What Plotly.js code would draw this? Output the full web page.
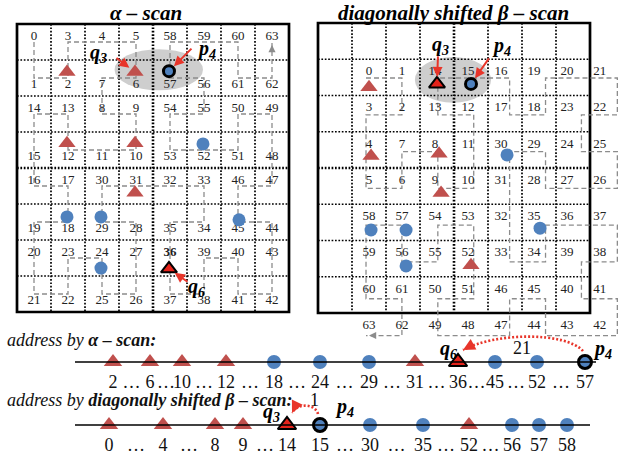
<!DOCTYPE html>
<html><head><meta charset="utf-8">
<script src="https://cdn.plot.ly/plotly-3.0.1.min.js"></script>
<style>html,body{margin:0;padding:0;background:#fff}#chart{width:618px;height:457px}</style>
</head><body><div id="chart"></div>
<script>
// ---------------- data ----------------
const alphaGrid = [
  [0, 3, 4, 5, 58, 59, 60, 63],
  [1, 2, 7, 6, 57, 56, 61, 62],
  [14, 13, 8, 9, 54, 55, 50, 49],
  [15, 12, 11, 10, 53, 52, 51, 48],
  [16, 17, 30, 31, 32, 33, 46, 47],
  [19, 18, 29, 28, 35, 34, 45, 44],
  [20, 23, 24, 27, 36, 39, 40, 43],
  [21, 22, 25, 26, 37, 38, 41, 42]
];
const betaGrid = [
  [0, 1, 14, 15, 16, 19, 20, 21],
  [3, 2, 13, 12, 17, 18, 23, 22],
  [4, 7, 8, 11, 30, 29, 24, 25],
  [5, 6, 9, 10, 31, 28, 27, 26],
  [58, 57, 54, 53, 32, 35, 36, 37],
  [59, 56, 55, 52, 33, 34, 39, 38],
  [60, 61, 50, 51, 46, 45, 40, 41],
  [63, 62, 49, 48, 47, 44, 43, 42]
];
const pointKind = ['tri', 'tri', 'dot', 'tri', 'tri', 'dot', 'tri', 'dot', 'dot', 'dot', 'dot', 'tri'];
const pointName = ['', 'q3', 'p4', '', '', '', '', '', '', '', '', 'q6'];
const alphaAddr = [2, 6, 57, 12, 10, 52, 31, 18, 29, 45, 24, 36];
const betaAddr  = [0, 14, 15, 4, 8, 30, 9, 58, 57, 35, 56, 52];
const alphaPtX = [1.47, 3.47, 4.47, 1.47, 3.47, 5.47, 3.47, 1.47, 2.47, 6.53, 2.47, 4.47];
const alphaPtY = [1.33, 1.33, 1.31, 3.31, 3.31, 3.33, 4.69, 5.36, 5.36, 5.44, 6.78, 6.80];
const betaPtX  = [1.50, 3.50, 4.50, 1.56, 3.56, 5.56, 3.62, 1.56, 2.59, 6.53, 2.59, 4.50];
const betaPtY  = [1.77, 1.68, 1.68, 3.67, 3.61, 3.64, 4.69, 5.71, 5.71, 5.66, 6.70, 6.68];
const alphaFocus = ['q6', 'p4'];
const betaFocus  = ['q3', 'p4'];
const alphaBold  = [36];
// positions of the sorted addresses along the two address lines
const alphaLineX = [113, 150, 182, 226, 274, 320, 369, 415, 458, 495, 537, 585];
const betaLineX  = [109, 163, 215, 243, 287, 320, 370, 423, 469, 512, 539, 567];

// ---------------- styles / geometry ----------------
const W = 618, H = 457;
const FONT = '"Liberation Serif", "Times New Roman", serif';
const TRI = '#C0504D', DOT = '#4F81BD', QRED = '#E5231B', ARROW = '#E8352A', CURVE = '#8c8c8c';

function xAxis(p0, p1, origin, unit, anchor) {
  return {domain: [p0 / W, p1 / W], range: [(p0 - origin) / unit, (p1 - origin) / unit],
          visible: false, fixedrange: true, anchor: anchor};
}
function yAxis(p0, p1, origin, unit, anchor) {
  return {domain: [1 - p1 / H, 1 - p0 / H], range: [(p1 - origin) / unit, (p0 - origin) / unit],
          visible: false, fixedrange: true, anchor: anchor};
}

const data = [], shapes = [], annotations = [];

function markerArrays(idx, sizes, focus) {
  const sym = [], col = [], lc = [], lw = [], sz = [];
  idx.forEach(i => {
    const f = focus.includes(pointName[i]);
    const tri = pointKind[i] === 'tri';
    sym.push(tri ? 'triangle-up' : 'circle');
    col.push(tri ? (f ? QRED : TRI) : DOT);
    lc.push('#000');
    lw.push(f ? (tri ? 2 : 3) : 0);
    sz.push(tri ? (f ? sizes.ftri : sizes.tri) : (f ? sizes.fdot : sizes.dot));
  });
  return {symbol: sym, color: col, size: sz, opacity: 1, line: {color: lc, width: lw}};
}
function qpText(name) {
  return '<b><i>' + name[0] + '<sub>' + name.slice(1) + '</sub></i></b>';
}

// ---------------- grid panels ----------------
const panels = [
  {xa: 'x', ya: 'y', ux: 34, uy: 36, grid: alphaGrid, ptX: alphaPtX, ptY: alphaPtY, focus: alphaFocus, bold: alphaBold,
   vx: c => c + 0.5, vy: r => r + 0.5, lx: c => c + 0.5, ly: r => r + 0.5 + (r % 2 ? 0.19 : -0.15),
   ellipse: {dx: 0.2, dy: -0.05, rx: 1.3, ry: 0.57},
   callouts: {q3: {tail: [-20, -15], label: [-36, 18]}, p4: {tail: [24, -24], label: [38, 22]}, q6: {tail: [20, 14], label: [28, -19]}},
   title: '<b><i>α – scan</i></b>', titleX: 146},
  {xa: 'x2', ya: 'y2', ux: 34, uy: 36.25, grid: betaGrid, ptX: betaPtX, ptY: betaPtY, focus: betaFocus, bold: [],
   vx: c => 1.412 + 1.056 * c, vy: r => 1.517 + 1.015 * r, lx: c => 1.5 + 0.97 * c, ly: r => 1.35 + r,
   ellipse: {dx: -0.03, dy: -0.11, rx: 1.12, ry: 0.63},
   callouts: {q3: {tail: [1, -29], label: [3, 38]}, p4: {tail: [19, -27], label: [30, 37]}},
   title: '<b><i>diagonally shifted β – scan</i></b>', titleX: 453}
];

panels.forEach(P => {
  // grey ellipse around q3 / p4
  const iq = pointName.indexOf('q3'), ip = pointName.indexOf('p4');
  const cx = (P.ptX[iq] + P.ptX[ip]) / 2 + P.ellipse.dx, cy = (P.ptY[iq] + P.ptY[ip]) / 2 + P.ellipse.dy;
  shapes.push({type: 'circle', xref: P.xa, yref: P.ya, layer: 'below', x0: cx - P.ellipse.rx, x1: cx + P.ellipse.rx,
               y0: cy - P.ellipse.ry, y1: cy + P.ellipse.ry, fillcolor: 'rgb(206,206,206)', line: {width: 0}});
  // dotted cell grid
  for (let k = 1; k < 8; k++) {
    const w = k === 4 ? 2.6 : 1.7;
    shapes.push({type: 'line', xref: P.xa, yref: P.ya, layer: 'below', x0: k, x1: k, y0: 0, y1: 8, line: {color: '#000', width: w, dash: '1.7px,1.7px'}});
    shapes.push({type: 'line', xref: P.xa, yref: P.ya, layer: 'below', x0: 0, x1: 8, y0: k, y1: k, line: {color: '#000', width: w, dash: '1.7px,1.7px'}});
  }
  shapes.push({type: 'rect', xref: P.xa, yref: P.ya, layer: 'below', x0: 0, x1: 8, y0: 0, y1: 8, line: {color: '#000', width: 2.7}});

  // scan curve in address order
  const n = 64, cxs = new Array(n), cys = new Array(n), tx = [], ty = [], tt = [];
  P.grid.forEach((row, r) => row.forEach((v, c) => {
    cxs[v] = P.vx(c); cys[v] = P.vy(r);
    tx.push(P.lx(c)); ty.push(P.ly(r)); tt.push(P.bold.includes(v) ? '<b>' + v + '</b>' : String(v));
  }));
  data.push({type: 'scatter', mode: 'lines', x: cxs, y: cys, xaxis: P.xa, yaxis: P.ya, hoverinfo: 'skip',
             line: {color: CURVE, width: 1.3, dash: '5px,3px'}});
  // arrow head at the end of the curve
  const dxu = (cxs[n - 2] - cxs[n - 1]) * P.ux, dyu = (cys[n - 2] - cys[n - 1]) * P.uy, len = Math.hypot(dxu, dyu);
  annotations.push({xref: P.xa, yref: P.ya, x: cxs[n - 1], y: cys[n - 1], text: '', showarrow: true,
                    ax: 10 * dxu / len, ay: 10 * dyu / len, arrowhead: 2, arrowsize: 1.1, arrowwidth: 1.3,
                    arrowcolor: CURVE, standoff: 3});
  data.push({type: 'scatter', mode: 'text', x: tx, y: ty, text: tt, xaxis: P.xa, yaxis: P.ya, cliponaxis: false,
             hoverinfo: 'skip', textfont: {family: FONT, size: 13, color: '#222'}});

  // points
  const idx = pointKind.map((_, i) => i);
  data.push({type: 'scatter', mode: 'markers', x: P.ptX, y: P.ptY, xaxis: P.xa, yaxis: P.ya, cliponaxis: false,
             hoverinfo: 'skip', marker: markerArrays(idx, {tri: 15, ftri: 14, dot: 13, fdot: 11}, P.focus)});

  // call-outs (arrows + names)
  Object.keys(P.callouts).forEach(name => {
    const i = pointName.indexOf(name), co = P.callouts[name];
    annotations.push({xref: P.xa, yref: P.ya, x: P.ptX[i], y: P.ptY[i], text: '', showarrow: true,
                      ax: co.tail[0], ay: co.tail[1], arrowhead: 2, arrowsize: 1, arrowwidth: 2,
                      arrowcolor: ARROW, standoff: 7});
    annotations.push({xref: P.xa, yref: P.ya, x: P.ptX[i], y: P.ptY[i], text: qpText(name), showarrow: false,
                      xshift: co.label[0], yshift: co.label[1], font: {family: FONT, size: 20, color: '#000'}});
  });

  annotations.push({xref: 'paper', yref: 'paper', x: P.titleX / W, y: 1 - 13 / H, xanchor: 'center', yanchor: 'middle',
                    showarrow: false, text: P.title, font: {family: FONT, size: 21, color: '#000'}});
});

// ---------------- address lines ----------------
const LINE_UNIT = 63; // px per row unit on the address-line axis
const addrLines = [
  {row: 0, addr: alphaAddr, pos: alphaLineX, focus: alphaFocus, x0: 75, x1: 596,
   names: {q6: [-10, 13], p4: [17, 13]}, arc: {from: 'p4', to: 'q6', h: 30}, dist: [0, 14],
   title: '<i>address by </i><b><i>α – scan:</i></b>', titleY: 340},
  {row: 1, addr: betaAddr, pos: betaLineX, focus: betaFocus, x0: 75, x1: 590,
   names: {q3: [-16, 13], p4: [24, 18]}, arc: {from: 'p4', to: 'q3', h: 22}, dist: [11, 25],
   title: '<i>address by </i><b><i>diagonally shifted β – scan:</i></b>', titleY: 400}
];

addrLines.forEach(L => {
  const order = pointKind.map((_, i) => i).sort((a, b) => L.addr[a] - L.addr[b]);
  const xs = L.pos, ys = xs.map(() => L.row);
  shapes.push({type: 'line', xref: 'x3', yref: 'y3', x0: L.x0, x1: L.x1, y0: L.row, y1: L.row, line: {color: '#000', width: 1.6}});
  // numbers and ellipses
  const tx = [], ty = [], tt = [];
  order.forEach((i, k) => {
    tx.push(xs[k]); ty.push(L.row + 21 / LINE_UNIT); tt.push(String(L.addr[i]));
    if (k > 0 && L.addr[i] - L.addr[order[k - 1]] > 1) {
      tx.push((xs[k] + xs[k - 1]) / 2); ty.push(L.row + 21 / LINE_UNIT); tt.push('…');
    }
  });
  data.push({type: 'scatter', mode: 'text', x: tx, y: ty, text: tt, xaxis: 'x3', yaxis: 'y3', cliponaxis: false,
             hoverinfo: 'skip', textfont: {family: FONT, size: 18, color: '#111'}});
  data.push({type: 'scatter', mode: 'markers', x: xs, y: ys, xaxis: 'x3', yaxis: 'y3', cliponaxis: false,
             hoverinfo: 'skip', marker: markerArrays(order, {tri: 16, ftri: 16, dot: 14, fdot: 13}, L.focus)});
  // names
  Object.keys(L.names).forEach(name => {
    const k = order.findIndex(i => pointName[i] === name);
    annotations.push({xref: 'x3', yref: 'y3', x: xs[k], y: L.row, text: qpText(name), showarrow: false,
                      xshift: L.names[name][0], yshift: L.names[name][1], font: {family: FONT, size: 20, color: '#000'}});
  });
  // dotted arc from p to q with distance label
  const kp = order.findIndex(i => pointName[i] === L.arc.from), kq = order.findIndex(i => pointName[i] === L.arc.to);
  const pX = xs[kp], qX = xs[kq], g = pX - qX, h = L.arc.h, r = L.row, u = LINE_UNIT;
  const ex = qX + 5, ey = r - 12 / u;
  shapes.push({type: 'path', xref: 'x3', yref: 'y3',
               path: `M ${pX - 2},${r - 11 / u} C ${pX - 0.15 * g},${r - h / u} ${qX + 0.3 * g},${r - h / u} ${ex},${ey}`,
               line: {color: ARROW, width: 2.6, dash: '2px,2px'}});
  const vx = 5 - 0.3 * g, vy = h - 12, vl = Math.hypot(vx, vy);
  annotations.push({xref: 'x3', yref: 'y3', x: ex, y: ey, text: '', showarrow: true, ax: -9 * vx / vl, ay: -9 * vy / vl,
                    arrowhead: 2, arrowsize: 1.2, arrowwidth: 2, arrowcolor: ARROW, standoff: 0});
  annotations.push({xref: 'x3', yref: 'y3', x: (pX + qX) / 2, y: r, showarrow: false,
                    text: String(L.addr[order[kp]] - L.addr[order[kq]]), xshift: L.dist[0], yshift: L.dist[1],
                    font: {family: FONT, size: 18, color: '#111'}});
  annotations.push({xref: 'paper', yref: 'paper', x: 5 / W, y: 1 - L.titleY / H, xanchor: 'left', yanchor: 'middle',
                    showarrow: false, text: L.title, font: {family: FONT, size: 18, color: '#111'}});
});

const layout = {
  width: W, height: H, margin: {l: 0, r: 0, t: 0, b: 0}, showlegend: false,
  paper_bgcolor: '#fff', plot_bgcolor: 'rgba(0,0,0,0)',
  xaxis: xAxis(0, 305, 17, 34, 'y'), yaxis: yAxis(0, 328, 24, 36, 'x'),
  xaxis2: xAxis(305, 618, 318, 34, 'y2'), yaxis2: yAxis(0, 350, 23, 36.25, 'x2'),
  xaxis3: xAxis(0, 618, 0, 1, 'y3'), yaxis3: yAxis(322, 457, 362, LINE_UNIT, 'x3'),
  shapes: shapes, annotations: annotations
};
Plotly.newPlot('chart', data, layout, {staticPlot: true, displayModeBar: false});
</script>
</body></html>
